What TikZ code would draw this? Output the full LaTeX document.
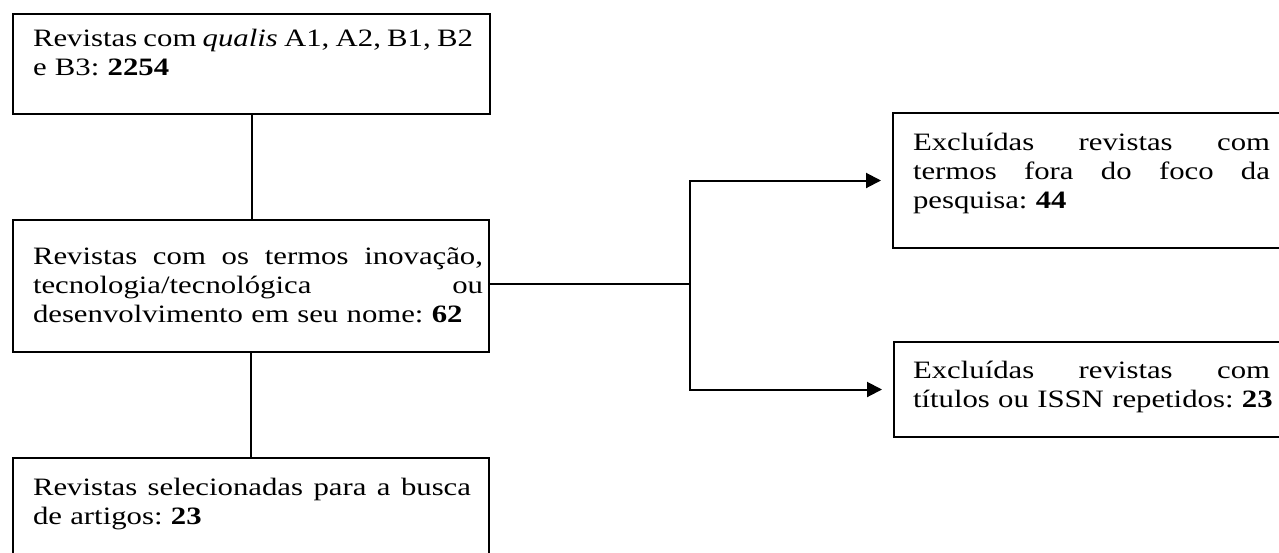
\documentclass[tikz,border=0pt]{standalone}
\usepackage{fontspec}
\setmainfont{Liberation Serif}[FakeStretch=1.23]
\usetikzlibrary{arrows.meta}
\frenchspacing
\newdimen\padl
\newdimen\padr
\newcommand\jl[1]{\hbox to\hsize{\hskip\padl\spaceskip=\fontdimen2\font plus 1fil minus \fontdimen4\font\relax #1\hskip\padr}}
\newcommand\nl[1]{\hbox to\hsize{\hskip\padl #1\hfil}}
\newcommand\lines[1]{\vtop{\frenchspacing\baselineskip=29pt #1}}
\tikzset{
  box/.style={draw, line width=2pt, rectangle, inner sep=0pt, align=left,
    font=\fontsize{25}{29}\selectfont},
  conn/.style={line width=2pt},
  arr/.style={conn, -{Triangle[length=15pt,width=15pt]}, shorten >=11pt}
}
\begin{document}
\begin{tikzpicture}[x=1pt,y=-1pt]
\useasboundingbox (0,0) rectangle (1279,552);
\node[box, text width=477pt, text height=32pt, text depth=68pt,
  execute at begin node={\padl=20pt\padr=17pt}] (b1) at (251.5,64)
  {\lines{\jl{Revistas com \textit{qualis} A1, A2, B1, B2}\nl{e B3: \textbf{2254}}}};
\node[box, text width=476pt, text height=44pt, text depth=88pt,
  execute at begin node={\padl=20pt\padr=6pt}] (b2) at (251,286)
  {\lines{\jl{Revistas com os termos inovação,}\jl{tecnologia/tecnológica ou}\nl{desenvolvimento em seu nome: \textbf{62}}}};
\node[box, text width=476pt, text height=37pt, text depth=63pt,
  execute at begin node={\padl=20pt\padr=18pt}] (b3) at (251,508)
  {\lines{\jl{Revistas selecionadas para a busca}\nl{de artigos: \textbf{23}}}};
\node[box, text width=397pt, text height=37pt, text depth=98pt,
  execute at begin node={\padl=20pt\padr=20pt}] (b4) at (1091.5,180.5)
  {\lines{\jl{Excluídas revistas com}\jl{termos fora do foco da}\nl{pesquisa: \textbf{44}}}};
\node[box, text width=396pt, text height=36pt, text depth=59pt,
  execute at begin node={\padl=19pt\padr=20pt}] (b5) at (1092,389.5)
  {\lines{\jl{Excluídas revistas com}\nl{títulos ou ISSN repetidos: \textbf{23}}}};
\coordinate (split) at (690,284);
\draw[conn] (b1.south) -- (b1.south |- b2.north);
\draw[conn] (b2.south) -- (b3.north);
\draw[conn] (b2.east |- split) -- (split);
\draw[arr] (split) |- (b4.west);
\draw[arr] (split) |- (b5.west);
\end{tikzpicture}
\end{document}
